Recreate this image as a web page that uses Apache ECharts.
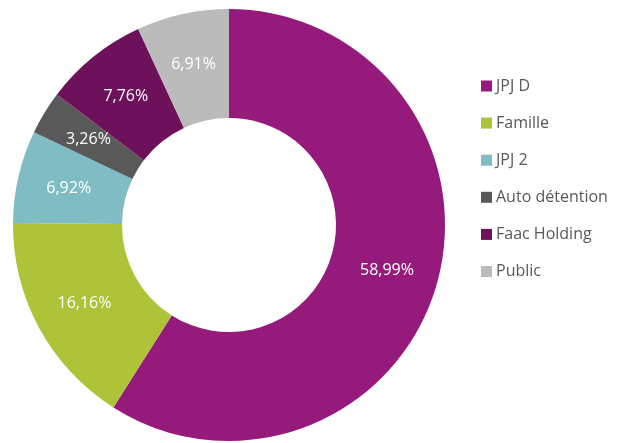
<!DOCTYPE html>
<html>
<head>
<meta charset="utf-8">
<script src="https://cdn.jsdelivr.net/npm/echarts@6/dist/echarts.min.js"></script>
<style>
  html, body { margin: 0; padding: 0; background: #fff; }
  #chart { width: 627px; height: 443px; }
</style>
</head>
<body>
<div id="chart"></div>
<script>
// Shareholders breakdown
const categories = ['JPJ D', 'Famille', 'JPJ 2', 'Auto détention', 'Faac Holding', 'Public'];
const shares = [58.99, 16.16, 6.92, 3.26, 7.76, 6.91];
const colors = ['#951a7c', '#aec337', '#7fbcc3', '#595959', '#6d115a', '#bbbbbb'];

const chart = echarts.init(document.getElementById('chart'));

const option = {
    animation: false,
    color: colors,
    legend: {
        orient: 'vertical',
        left: 476,
        top: 73,
        itemWidth: 11,
        itemHeight: 11,
        itemGap: 21.1,
        icon: 'rect',
        textStyle: { fontFamily: 'Open Sans', fontSize: 16, lineHeight: 16, color: '#595959', padding: [0, 0, 0, -1] },
        data: categories
    },
    series: [{
        type: 'pie',
        center: [229, 225],
        radius: [107, 216],
        startAngle: 90,
        clockwise: true,
        label: {
            position: 'inside',
            color: '#fff',
            fontFamily: 'Open Sans',
            fontSize: 16,
            formatter: p => p.value.toFixed(2).replace('.', ',') + '%'
        },
        labelLine: { show: false },
        itemStyle: { borderWidth: 0 },
        data: categories.map((name, i) => ({ name, value: shares[i] }))
    }]
};

chart.setOption(option);
</script>
</body>
</html>
